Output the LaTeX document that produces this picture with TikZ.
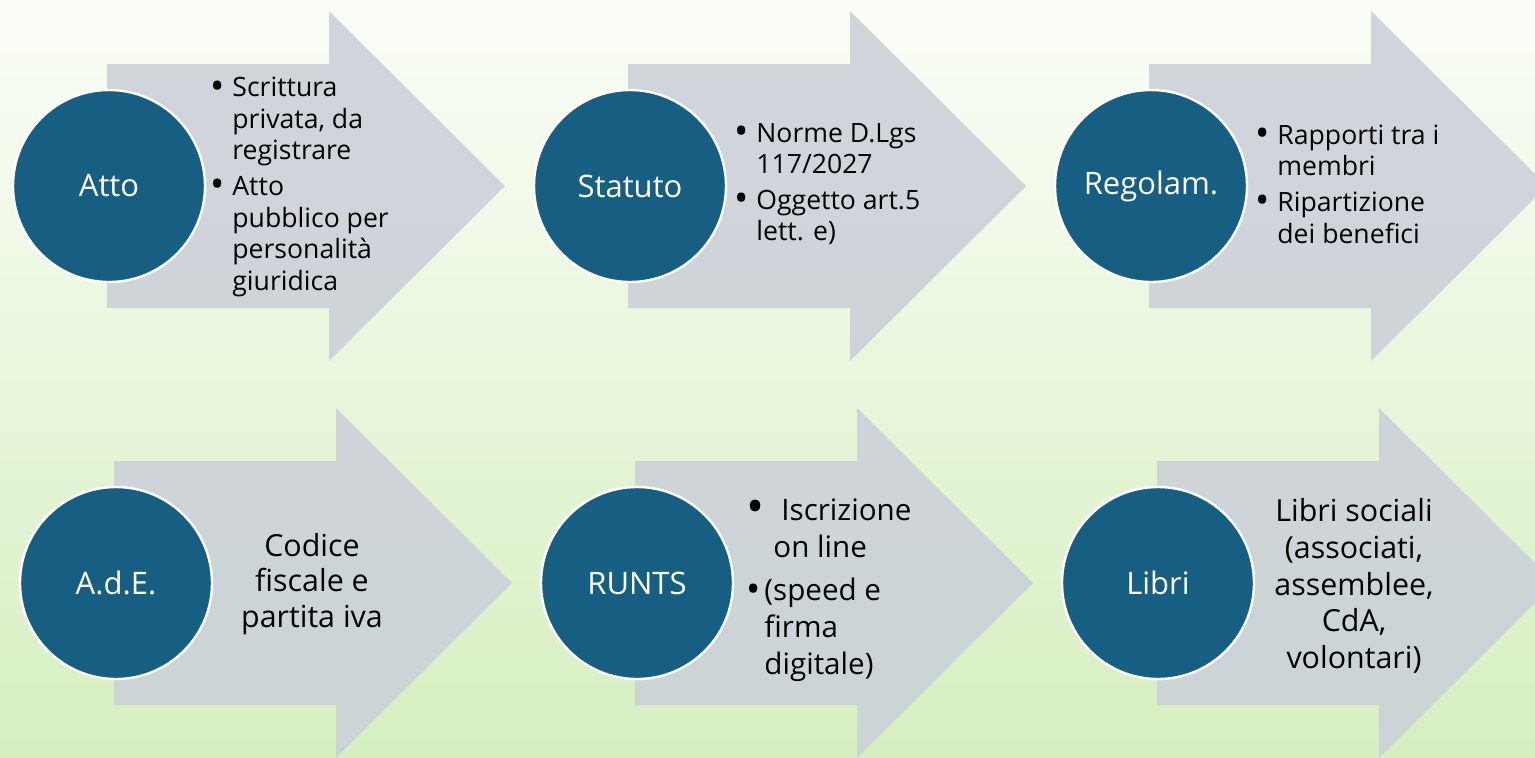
\documentclass[tikz,border=0pt]{standalone}
\usepackage{fontspec}
\setmainfont{Open Sans}
\definecolor{circblue}{HTML}{175F82}
\definecolor{arrowgray}{HTML}{CCD1D9}
\definecolor{bgtop}{HTML}{FBFEF8}
\definecolor{bgbottom}{HTML}{D6EFBF}
\tikzset{
  stepcircle/.style={circle, fill=circblue, draw=white, line width=1.2pt,
    minimum size=96pt, inner sep=0pt, text=white,
    font=\fontsize{15.5}{18}\selectfont},
  bullettext/.style={anchor=west, align=left, inner sep=0pt,
    font=\fontsize{13.3}{15.8}\selectfont},
  plaintext/.style={align=center, inner sep=0pt,
    font=\fontsize{15.2}{17.8}\selectfont},
}
\newcommand{\bigbul}{\raisebox{-1.2pt}{\fontsize{19}{15}\selectfont\textbullet}}
\newcommand{\bul}{\makebox[11pt][l]{\bigbul}}
\newcommand{\ind}{\hspace*{11pt}}

\begin{document}
\begin{tikzpicture}[x=0.5pt, y=-0.5pt]
		\useasboundingbox (0,0) rectangle (1535,757);
		\clip (0,0) rectangle (1535,757);
		\shade[top color=bgtop, bottom color=bgbottom] (0,0) rectangle (1535,757);
		% arrows
		\foreach \l/\c in {107/186, 628/186, 1149/186, 114/583, 635/583, 1157/583}
			\fill[arrowgray, fill opacity=0.9] (\l,\c-122) -- (\l+222,\c-122) -- (\l+222,\c-175)
				-- (\l+398,\c) -- (\l+222,\c+175) -- (\l+222,\c+122) -- (\l,\c+122) -- cycle;
		% circles
		\node[stepcircle] (atto) at (109,186) {Atto};
		\node[stepcircle] (statuto) at (630,186) {Statuto};
		\node[stepcircle] (regolam) at (1151,186) {Regolam.};
		\node[stepcircle] (ade) at (116,583) {A.d.E.};
		\node[stepcircle] (runts) at (637,583) {RUNTS};
		\node[stepcircle] (libri) at (1158,583) {Libri};
		% texts
		\node[bullettext] (atto text) at (210,187) {\bul Scrittura\\ \ind privata, da\\ \ind registrare\\[2pt]
			\bul Atto\\ \ind pubblico per\\ \ind personalità\\ \ind giuridica};
		\node[bullettext] (statuto text) at (734,184) {\bul Norme D.Lgs\\ \ind 117/2027\\[2pt]
			\bul Oggetto art.5\\ \ind lett. e)};
		\node[bullettext] (regolam text) at (1255,184) {\bul Rapporti tra i\\ \ind membri\\[2pt]
			\bul Ripartizione\\ \ind dei benefici};
		\node[plaintext] (ade text) at (312,584) {Codice\\ fiscale e\\ partita iva};
		\node[bullettext, font=\fontsize{14.8}{18.5}\selectfont] (runts text) at (746,590)
			{\makebox[17.5pt][l]{\raisebox{-1.5pt}{\fontsize{24}{18}\selectfont\textbullet}}Iscrizione\\ \hspace*{13.5pt}on line\\[3pt]
			\makebox[9pt][l]{\bigbul}(speed e\\ \hspace*{9pt}firma\\ \hspace*{9pt}digitale)};
		\node[plaintext, font=\fontsize{15.2}{18.3}\selectfont] (libri text) at (1354,586)
			{Libri sociali\\ (associati,\\ assemblee,\\ CdA,\\ volontari)};
	\end{tikzpicture}
\end{document}
